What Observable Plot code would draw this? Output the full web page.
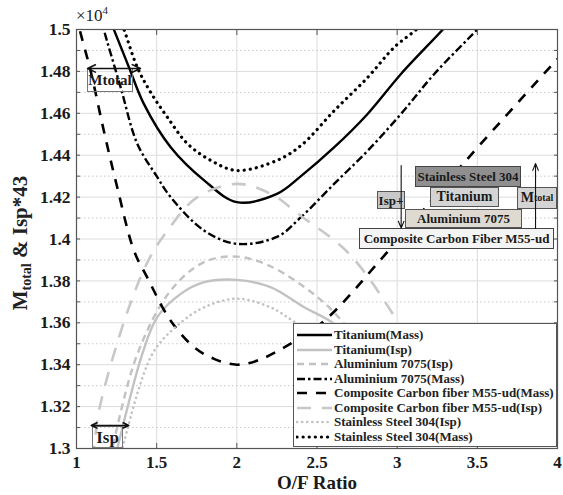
<!DOCTYPE html>
<html><head><meta charset="utf-8">
<script src="https://cdn.jsdelivr.net/npm/d3@7"></script>
<script src="https://cdn.jsdelivr.net/npm/@observablehq/plot@0.6"></script>
<style>
body{margin:0;background:#fff;}
#wrap{position:relative;width:563px;height:495px;font-family:"Liberation Serif","Times New Roman",serif;font-weight:bold;color:#222;}
#wrap > svg{position:absolute;left:0;top:0;}
#wrap svg text{font-family:"Liberation Serif","Times New Roman",serif !important;font-weight:bold;}
.box{position:absolute;box-sizing:border-box;border:1px solid #555;display:flex;align-items:center;justify-content:center;font-size:13px;color:#1a1a1a;white-space:nowrap;line-height:1;}
#legend{position:absolute;left:293px;top:323px;width:264px;height:124px;box-sizing:border-box;border:1px solid #555;background:#fff;padding-top:4px;}
.lrow{display:flex;align-items:center;height:14.5px;font-size:13px;white-space:nowrap;}
.lrow svg{margin-left:2px;margin-right:1px;}
#ylab{position:absolute;left:21px;top:243px;transform:translate(-50%,-50%) rotate(-90deg);font-size:21px;white-space:nowrap;}
#ylab sub{font-size:14px;vertical-align:-4px;}
#exp{position:absolute;left:76px;top:4px;font-size:17px;font-weight:normal;}
#exp sup{font-size:11px;}
sub.t{font-size:10px;vertical-align:-5px;}
</style></head><body><div id="wrap"></div>
<script>
// ---- data (x = O/F ratio, y = M_total or Isp*43) ----
const titaniumMass = [[1.20,15060],[1.233,15000],[1.327,14820],[1.42,14645],[1.5875,14438],[1.796,14280],[2.0,14176],[2.25,14215],[2.4,14300],[2.608,14438],[2.817,14598],[3.025,14789],[3.285,15000],[3.33,15040]];
const titaniumIsp = [[1.24,12960],[1.254,13000],[1.41,13450],[1.504,13627],[1.65,13738],[1.796,13794],[2.0,13805],[2.21,13770],[2.42,13674],[2.608,13595],[2.85,13420],[3.1,13200]];
const aluminiumIsp = [[1.21,12960],[1.223,13000],[1.379,13450],[1.5875,13754],[1.796,13890],[2.0,13916],[2.21,13870],[2.504,13722],[2.67,13595],[2.9,13350],[3.1,13100]];
const aluminiumMass = [[1.15,15060],[1.17,15000],[1.275,14725],[1.379,14455],[1.5,14300],[1.5875,14200],[1.796,14040],[2.0,13977],[2.25,14010],[2.4,14104],[2.608,14264],[2.817,14422],[3.025,14598],[3.233,14789],[3.5,15000],[3.55,15040]];
const compositeMass = [[1.0,15080],[1.02,15000],[1.0875,14804],[1.17,14518],[1.254,14247],[1.358,13945],[1.44,13818],[1.5875,13610],[1.733,13484],[1.858,13428],[2.0,13400],[2.129,13420],[2.296,13483],[2.546,13610],[2.93,13930],[3.43,14375],[4.0,14860]];
const compositeIsp = [[1.09,12950],[1.108,13000],[1.14,13180],[1.306,13627],[1.45,13900],[1.567,14040],[1.754,14200],[2.0,14263],[2.21,14216],[2.4,14110],[2.7,13930],[3.0,13610],[3.2,13350],[3.4,13000]];
const steelIsp = [[1.27,12960],[1.285,13000],[1.472,13450],[1.629,13587],[1.796,13674],[2.0,13715],[2.21,13674],[2.348,13610],[2.6,13480],[2.9,13250]];
const steelMass = [[1.27,15050],[1.296,15000],[1.379,14820],[1.4625,14700],[1.567,14581],[1.692,14455],[1.8375,14375],[2.0,14327],[2.25,14375],[2.4,14446],[2.608,14613],[2.817,14772],[2.983,14916],[3.12,15000],[3.17,15040]];

const seriesNames = ["Titanium(Mass)","Titanium(Isp)","Aluminium 7075(Isp)","Aluminium 7075(Mass)","Composite Carbon fiber M55-ud(Mass)","Composite Carbon fiber M55-ud(Isp)","Stainless Steel 304(Isp)","Stainless Steel 304(Mass)"];
const seriesData = [titaniumMass,titaniumIsp,aluminiumIsp,aluminiumMass,compositeMass,compositeIsp,steelIsp,steelMass];

const xTicks = [1,1.5,2,2.5,3,3.5,4];
const xTickLabels = ["1","1.5","2","2.5","3","3.5","4"];
const yTicks = [13000,13200,13400,13600,13800,14000,14200,14400,14600,14800,15000];
const yTickLabels = ["1.3","1.32","1.34","1.36","1.38","1.4","1.42","1.44","1.46","1.48","1.5"];
const yMinor = [13100,13300,13500,13700,13900,14100,14300,14500,14700,14900];

// ---- styles ----
const GRAY = "#c2c2c2";
const styles = [
  {stroke:"#000", w:2.4, dash:null, cap:"butt"},
  {stroke:GRAY, w:2.4, dash:null, cap:"butt"},
  {stroke:GRAY, w:2.4, dash:"7,5", cap:"butt"},
  {stroke:"#000", w:2.4, dash:"8,3,2.5,3", cap:"butt"},
  {stroke:"#000", w:2.6, dash:"10,9", cap:"butt"},
  {stroke:"#c8c8c8", w:2.6, dash:"14,11", cap:"butt"},
  {stroke:GRAY, w:2.6, dash:"0.1,5", cap:"round"},
  {stroke:"#000", w:3.2, dash:"0.1,6", cap:"round"}
];

const W = 563, H = 495;
const M = {marginLeft:76, marginRight:6, marginTop:29, marginBottom:47};
const scales = {x:{domain:[1,4]}, y:{domain:[13000,15000]}};
const FONT = "'Liberation Serif', serif";

const lines = seriesData.map((d,i) => Plot.line(d, {
  x: p => p[0], y: p => p[1], curve: "catmull-rom", clip: true,
  stroke: styles[i].stroke, strokeWidth: styles[i].w,
  strokeDasharray: styles[i].dash, strokeLinecap: styles[i].cap
}));

const yAll = yTicks.concat(yMinor);
const chart = Plot.plot({
  width: W, height: H, ...M, ...scales,
  style: {fontFamily: FONT, fontWeight: "bold", fontSize: "17px", color: "#1a1a1a", background: "#fff"},
  marks: [
    Plot.gridX(xTicks, {stroke:"#dcdcdc", strokeOpacity:1, strokeWidth:1}),
    Plot.gridY(yMinor, {stroke:"#c8c8c8", strokeOpacity:1, strokeDasharray:"1.5,2.5"}),
    Plot.gridY(yTicks, {stroke:"#dcdcdc", strokeOpacity:1, strokeWidth:1}),
    ...lines,
    Plot.frame({stroke:"#555", strokeWidth:1.2}),
    Plot.axisY(yAll, {anchor:"left", tickSize:4, dx:4, tickFormat:()=>"", label:null, stroke:"#555"}),
    Plot.axisY(yAll, {anchor:"right", tickSize:4, dx:-4, tickFormat:()=>"", label:null, stroke:"#555"}),
    Plot.axisX(xTicks, {anchor:"bottom", tickSize:5, dy:-5, tickFormat:()=>"", label:null, stroke:"#555"}),
    Plot.axisX(xTicks, {anchor:"top", tickSize:5, dy:5, tickFormat:()=>"", label:null, stroke:"#555"}),
    Plot.axisX(xTicks, {anchor:"bottom", tickSize:0, tickPadding:7, tickFormat:(d)=>xTickLabels[xTicks.indexOf(d)], label:null, fontSize:17, fontFamily:FONT, fontWeight:"bold"}),
    Plot.axisY(yTicks, {anchor:"left", tickSize:0, tickPadding:6, tickFormat:(d)=>yTickLabels[yTicks.indexOf(d)], label:null, fontSize:17.5, fontFamily:FONT, fontWeight:"bold"}),
    Plot.text(["O/F Ratio"], {frameAnchor:"bottom", dy:40, text:d=>d, fontSize:19, fontWeight:"bold", fontFamily:FONT})
  ]
});

// arrows overlay with the same scales
const mtotalArrow = [{x1:1.23,y1:14814,x2:1.069,y2:14814},{x1:1.23,y1:14814,x2:1.399,y2:14814}];
const ispArrow = [{x1:1.21,y1:13110,x2:1.092,y2:13110},{x1:1.21,y1:13110,x2:1.326,y2:13110}];
const orderArrows = [{x1:3.025,y1:14351,x2:3.025,y2:14052},{x1:3.863,y1:14050,x2:3.863,y2:14360}];
const arrowPlot = Plot.plot({
  width: W, height: H, ...M, ...scales, axis: null,
  style: {background: "transparent", overflow: "visible"},
  marks: [
    Plot.arrow(mtotalArrow.concat(ispArrow), {x1:"x1",y1:"y1",x2:"x2",y2:"y2", stroke:"#111", strokeWidth:1.6, headLength:9, headAngle:50}),
    Plot.arrow(orderArrows, {x1:"x1",y1:"y1",x2:"x2",y2:"y2", stroke:"#111", strokeWidth:1.1, headLength:10, headAngle:45})
  ]
});

const wrap = document.getElementById("wrap");
wrap.appendChild(chart);

// annotation boxes
const boxes = [
  {t:"Mtotal", l:87, tp:68, w:46, h:24, bg:"transparent", fs:15, bc:"#777"},
  {t:"Isp", l:92, tp:426, w:31, h:22, bg:"transparent", fs:17, bc:"#777"},
  {t:"Stainless Steel 304", l:415, tp:166, w:106, h:21, bg:"#8f8f8f", fs:13, bc:"#444"},
  {t:"Titanium", l:430, tp:187, w:69, h:20, bg:"#d4d4d4", fs:14, bc:"#555"},
  {t:"Isp+", l:377, tp:191, w:28, h:18, bg:"#c8c8c8", fs:13, bc:"#555"},
  {t:"M<sub class='t'>total</sub>", l:517, tp:187, w:40, h:22, bg:"#d4d4d4", fs:14, bc:"#555"},
  {t:"Aluminium 7075", l:405, tp:209, w:117, h:19, bg:"#dedad2", fs:13, bc:"#555"},
  {t:"Composite Carbon Fiber M55-ud", l:359, tp:228, w:195, h:21, bg:"#f4f4f4", fs:13, bc:"#444"}
];
for (const b of boxes) {
  const d = document.createElement("div");
  d.className = "box";
  d.style.cssText = `left:${b.l}px;top:${b.tp}px;width:${b.w}px;height:${b.h}px;background:${b.bg};font-size:${b.fs}px;border-color:${b.bc};`;
  d.innerHTML = b.t;
  wrap.appendChild(d);
}

// legend
const leg = document.createElement("div");
leg.id = "legend";
seriesNames.forEach((n,i) => {
  const s = styles[i];
  const r = document.createElement("div");
  r.className = "lrow";
  r.innerHTML = `<svg width="37" height="6"><line x1="1" y1="3" x2="36" y2="3" stroke="${s.stroke}" stroke-width="${s.w}" ${s.dash?`stroke-dasharray="${s.dash}"`:""} stroke-linecap="${s.cap}"/></svg><span>${n}</span>`;
  leg.appendChild(r);
});
wrap.appendChild(leg);

wrap.appendChild(arrowPlot);

const yl = document.createElement("div");
yl.id = "ylab";
yl.innerHTML = "M<sub>total</sub> &amp; Isp*43";
wrap.appendChild(yl);
const ex = document.createElement("div");
ex.id = "exp";
ex.innerHTML = "×10<sup>4</sup>";
wrap.appendChild(ex);
</script></body></html>
